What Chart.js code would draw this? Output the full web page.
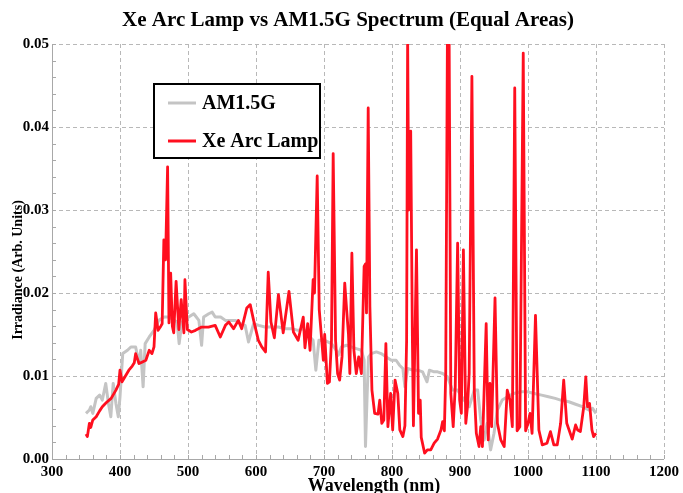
<!DOCTYPE html>
<html>
<head>
<meta charset="utf-8">
<script src="https://cdn.jsdelivr.net/npm/chart.js@4.4.1/dist/chart.umd.min.js"></script>
<style>
  html, body { margin: 0; padding: 0; background: #fff; }
</style>
</head>
<body>
<canvas id="chart" width="683" height="493"></canvas>
<script>
// AM1.5G reference spectrum (scaled)
const amWl = [350, 355, 357, 360, 365, 370, 374, 379, 383, 386.5, 390, 394, 397.5, 400, 404, 411, 416, 423, 428, 430.5,
  434, 437, 443, 450, 457, 465, 472, 484, 487, 491, 494, 501, 508.5, 516, 520, 523, 530.5, 535.5, 540, 548,
  555, 562, 570, 577, 584, 589, 592, 596.5, 604, 613, 623, 633, 643, 652.5, 662, 669.5, 677, 684, 688, 692.5,
  701, 711, 718, 721, 725.5, 733, 740, 747.5, 755, 759, 761, 763.5, 765.5, 769.5, 777, 784, 791.5, 799, 806, 811,
  816, 819, 823, 830.5, 838, 845, 851.5, 855, 862, 867, 874.5, 881.5, 889, 896.5, 906, 913.5, 921, 926, 930.5, 935.5,
  940, 945, 950, 955, 962, 970, 979, 989, 999, 1009, 1020, 1030, 1040, 1048, 1060, 1070, 1080, 1090, 1095, 1100];
const amVal = [.0055, .0059, .0063, .0055, .0073, .0077, .0071, .0091, .0067, .0051, .0091, .0067, .0051, .0075, .0127, .0131, .0135, .0135, .0115, .0131,
  .0087, .0139, .0147, .0155, .0167, .0171, .0171, .0165, .0139, .0165, .0167, .0171, .0175, .0167, .0137, .0171, .0175, .0177, .0171, .0171,
  .0167, .0167, .0167, .0163, .0161, .0141, .0150, .0163, .0161, .0159, .0159, .0159, .0157, .0157, .0155, .0157, .0149, .0143, .0107, .0143,
  .0143, .0139, .0131, .0125, .0135, .0137, .0135, .0133, .0131, .0119, .0015, .0079, .0123, .0127, .0129, .0127, .0123, .0119, .0119, .0113,
  .0109, .0087, .0109, .0107, .0107, .0105, .0093, .0107, .0105, .0105, .0103, .0099, .0083, .0083, .0071, .0063, .0083, .0083, .0047, .0023,
  .0043, .0011, .0031, .0059, .0071, .0075, .0079, .0081, .0081, .0079, .0077, .0075, .0073, .0071, .0069, .0066, .0063, .0059, .0061, .0055];

// Xe arc lamp spectrum (equal area)
const xeWl = [350, 352, 355, 357, 360, 365, 370, 374, 380, 387, 394, 398, 400, 403, 408, 413, 418, 421, 423, 428,
  433, 438, 443, 447, 450, 452.5, 456, 460, 462, 464.5, 467, 470, 472, 474.5, 477, 479, 482.5, 486.5, 490, 494,
  495.5, 499, 505, 511, 520, 530, 540, 547.5, 555, 560, 567, 574, 579, 586.5, 591.5, 596.5, 603.5, 608.5, 614, 618,
  622, 627, 633, 640, 648.5, 655, 662, 669.5, 672, 676, 679.5, 684, 686, 690, 693, 695.5, 699, 701, 705, 708,
  711, 713.5, 717, 720, 723, 726.5, 730.5, 733, 736, 738, 741, 744, 747.5, 751, 755, 759, 761, 762.5, 765, 767.5,
  770.5, 774.5, 779.5, 782, 785, 788, 791, 794, 798, 801, 804.5, 808.5, 811.5, 816, 819, 821.5, 823, 824.5, 826, 827.5,
  830, 831.5, 836, 839, 841.5, 843, 848, 852, 857, 862, 867, 872, 874.5, 877, 879, 881.5, 884, 886.5, 890, 893,
  896.5, 899.5, 902, 905, 908.5, 911, 913.5, 917.5, 921, 924, 928, 930.5, 933, 938.5, 941.5, 944, 946.5, 951.5, 955, 960,
  965, 969.5, 973.5, 977, 980.5, 984, 988, 993, 996.5, 1000, 1003, 1006, 1011, 1016, 1021, 1028, 1033, 1038, 1043, 1048,
  1052.5, 1057, 1065, 1070, 1073, 1077, 1082, 1085, 1087.5, 1090.5, 1094, 1096.5, 1100];
const xeVal = [.0030, .0027, .0043, .0038, .0047, .0051, .0058, .0063, .0068, .0073, .0083, .0090, .0107, .0093, .0100, .0107, .0112, .0116, .0127, .0115,
  .0117, .0119, .0131, .0127, .0135, .0176, .0155, .0160, .0163, .0264, .0240, .0352, .0164, .0224, .0160, .0152, .0214, .0156, .0192, .0152,
  .0216, .0156, .0153, .0155, .0159, .0159, .0161, .0147, .0161, .0165, .0157, .0167, .0157, .0182, .0186, .0167, .0143, .0135, .0129, .0225,
  .0165, .0146, .0198, .0152, .0202, .0153, .0143, .0171, .0134, .0163, .0131, .0216, .0200, .0341, .0180, .0155, .0119, .0150, .0091, .0093,
  .0143, .0368, .0143, .0103, .0095, .0123, .0212, .0183, .0150, .0103, .0248, .0131, .0103, .0123, .0103, .0232, .0235, .0176, .0423, .0183,
  .0083, .0055, .0054, .0071, .0043, .0047, .0139, .0039, .0079, .0035, .0095, .0079, .0035, .0027, .0040, .0143, .0510, .0300, .0392, .0395,
  .0143, .0040, .0252, .0055, .0071, .0026, .0007, .0011, .0011, .0019, .0024, .0035, .0045, .0034, .0103, .0510, .0510, .0079, .0039, .0087,
  .0260, .0071, .0055, .0252, .0043, .0063, .0103, .0461, .0083, .0031, .0015, .0039, .0015, .0163, .0023, .0091, .0039, .0194, .0043, .0023,
  .0015, .0083, .0071, .0039, .0447, .0034, .0039, .0489, .0034, .0043, .0055, .0031, .0173, .0035, .0017, .0019, .0033, .0017, .0017, .0043,
  .0095, .0043, .0024, .0041, .0035, .0033, .0063, .0099, .0063, .0067, .0035, .0027, .0031];

const xTicks = [300, 400, 500, 600, 700, 800, 900, 1000, 1100, 1200];
const yTicks = [0, 0.01, 0.02, 0.03, 0.04, 0.05];

const titleText = 'Xe Arc Lamp vs AM1.5G Spectrum (Equal Areas)';
const xTitle = 'Wavelength (nm)';
const yTitle = 'Irradiance (Arb. Units)';

const serif = "'Liberation Serif', 'Times New Roman', serif";
const gridGrey = '#b8b8b8';
const gridDash = [4, 3];

function pts(xs, ys) {
  return xs.map((x, i) => ({ x: x, y: ys[i] }));
}

// frame + inward minor ticks, Mathematica style
const frameTicks = {
  id: 'frameTicks',
  afterDraw(chart) {
    const { ctx, chartArea: a, scales: { x, y } } = chart;
    ctx.save();
    ctx.strokeStyle = '#a8a8a8';
    ctx.lineWidth = 1;
    ctx.setLineDash([]);
    ctx.beginPath();
    ctx.moveTo(a.left + 0.5, a.top);
    ctx.lineTo(a.left + 0.5, a.bottom + 0.5);
    ctx.lineTo(a.right, a.bottom + 0.5);
    for (let v = 300; v <= 1200; v += 20) {
      const px = Math.round(x.getPixelForValue(v)) + 0.5;
      ctx.moveTo(px, a.bottom);
      ctx.lineTo(px, a.bottom - 4);
    }
    for (let k = 0; k <= 25; k++) {
      const py = Math.round(y.getPixelForValue(k * 0.002)) + 0.5;
      ctx.moveTo(a.left, py);
      ctx.lineTo(a.left + 4, py);
    }
    ctx.stroke();
    ctx.restore();
  }
};

// chart title and axis titles, placed like the original figure
const titles = {
  id: 'titles',
  afterDraw(chart) {
    const { ctx, chartArea: a } = chart;
    ctx.save();
    ctx.fillStyle = '#000';
    ctx.textAlign = 'center';
    ctx.textBaseline = 'middle';
    ctx.font = 'bold 21px ' + serif;
    ctx.fillText(titleText, 348, 21);
    ctx.font = 'bold 18px ' + serif;
    ctx.fillText(xTitle, a.left + 322, 486);
    ctx.translate(18, 270);
    ctx.rotate(-Math.PI / 2);
    ctx.font = 'bold 14px ' + serif;
    ctx.fillText(yTitle, 0, 0);
    ctx.restore();
  }
};

// boxed legend inside the plot
const boxLegend = {
  id: 'boxLegend',
  afterDatasetsDraw(chart) {
    const { ctx, chartArea: a } = chart;
    const bx = a.left + 102, by = a.top + 40, bw = 166, bh = 74;
    ctx.save();
    ctx.setLineDash([]);
    ctx.fillStyle = '#fff';
    ctx.fillRect(bx, by, bw, bh);
    ctx.strokeStyle = '#000';
    ctx.lineWidth = 2;
    ctx.strokeRect(bx, by, bw, bh);
    const rows = [chart.data.datasets[0], chart.data.datasets[1]];
    ctx.font = 'bold 20px ' + serif;
    ctx.textBaseline = 'middle';
    rows.forEach((ds, i) => {
      const yy = by + 19 + i * 38;
      ctx.strokeStyle = ds.borderColor;
      ctx.lineWidth = 3;
      ctx.beginPath();
      ctx.moveTo(bx + 14, yy);
      ctx.lineTo(bx + 42, yy);
      ctx.stroke();
      ctx.fillStyle = '#000';
      ctx.fillText(ds.label, bx + 48, yy + 1);
    });
    ctx.restore();
  }
};

new Chart(document.getElementById('chart'), {
  type: 'line',
  data: {
    datasets: [
      { label: 'AM1.5G', data: pts(amWl, amVal), borderColor: '#c4c4c4', borderWidth: 3, order: 2 },
      { label: 'Xe Arc Lamp', data: pts(xeWl, xeVal), borderColor: '#ff0f1f', borderWidth: 2.8, order: 1 }
    ]
  },
  options: {
    responsive: false,
    devicePixelRatio: 1,
    animation: false,
    parsing: false,
    layout: { padding: { right: 15, left: 0, top: 44, bottom: 0 } },
    elements: { point: { radius: 0 }, line: { tension: 0, borderJoinStyle: 'round', fill: false } },
    plugins: {
      legend: { display: false },
      tooltip: { enabled: false },
      title: { display: false }
    },
    scales: {
      x: {
        type: 'linear',
        min: 300, max: 1200,
        afterBuildTicks: s => { s.ticks = xTicks.map(v => ({ value: v })); },
        afterFit: s => { s.height = 34; },
        ticks: { color: '#000', padding: 4, font: { family: serif, size: 15, weight: 'bold' }, maxRotation: 0, callback: v => String(v) },
        grid: { color: gridGrey, lineWidth: 1, drawTicks: false, borderDash: gridDash, dash: gridDash },
        border: { display: false, dash: gridDash }
      },
      y: {
        min: 0, max: 0.05,
        afterBuildTicks: s => { s.ticks = yTicks.map(v => ({ value: v })); },
        afterFit: s => { s.width = 52; },
        ticks: { color: '#000', padding: 3, font: { family: serif, size: 15, weight: 'bold' }, callback: v => v.toFixed(2) },
        grid: { color: gridGrey, lineWidth: 1, drawTicks: false, borderDash: gridDash, dash: gridDash },
        border: { display: false, dash: gridDash }
      }
    }
  },
  plugins: [frameTicks, titles, boxLegend]
});
</script>
</body>
</html>
